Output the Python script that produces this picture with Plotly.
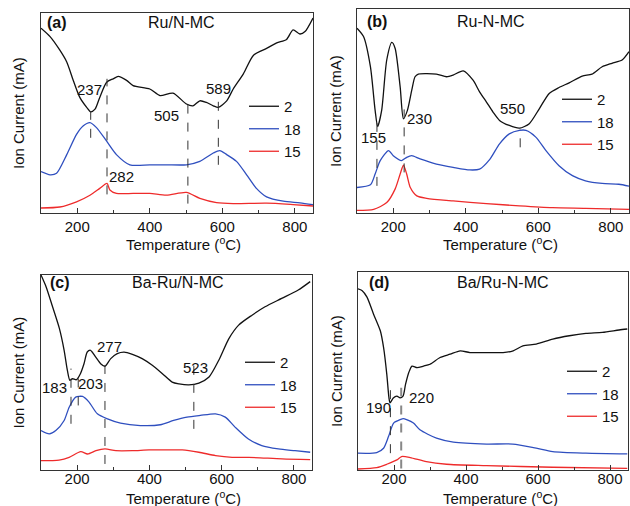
import plotly.graph_objects as go

W, H = 630, 506
FONT = "Liberation Sans, Arial, sans-serif"
BLACK, BLUE, RED = "#111111", "#2f4fbf", "#ee2b2b"

series_names = ["2", "18", "15"]

# ---------------- Panel (a) Ru/N-MC ----------------
a_t2 = [100, 125, 152, 171, 189, 207, 226, 237, 249, 262, 281, 299, 313, 336, 354, 400, 428, 464, 501, 519, 538, 556, 575, 589, 612, 630, 658, 686, 722, 750, 777, 795, 814, 828, 850]
a_v2 = [92.4, 88.2, 81.4, 75.5, 66.3, 57.8, 52.8, 50.6, 51.9, 57.8, 65.4, 67.1, 68.3, 66.3, 63.7, 62.0, 58.7, 59.9, 54.5, 53.6, 56.1, 55.3, 53.6, 52.8, 56.1, 62.0, 69.6, 78.9, 82.3, 85.1, 86.8, 91.6, 89.5, 90.7, 97.5]
a_t18 = [100, 125, 143, 171, 198, 216, 235, 253, 281, 308, 345, 400, 446, 501, 538, 575, 593, 612, 639, 667, 694, 722, 768, 814, 850]
a_v18 = [20.7, 19.1, 19.9, 29.2, 39.3, 43.5, 45.2, 42.7, 35.9, 29.2, 24.1, 24.1, 24.1, 24.1, 25.8, 30.0, 31.2, 29.2, 25.8, 19.1, 12.3, 8.1, 5.9, 5.1, 4.2]
a_t15 = [100, 152, 198, 235, 262, 282, 290, 308, 354, 400, 446, 501, 538, 584, 630, 722, 795, 850]
a_v15 = [2.5, 3.0, 5.6, 8.9, 12.3, 14.8, 11.5, 9.8, 9.8, 9.8, 8.9, 10.3, 7.3, 5.2, 4.7, 4.9, 4.2, 3.5]
a_peaks = [237, 282, 505, 589]
a_peak_lo = [37.6, 9.3, 4.7, 24.1]
a_peak_hi = [50.6, 67.1, 57.8, 59.2]
a_lab_x = [235, 323, 447, 589]
a_lab_y = [61.5, 18.2, 48.9, 62.0]

# ---------------- Panel (b) Ru-N-MC ----------------
b_t2 = [100, 118, 137, 150, 157, 168, 182, 196, 205, 219, 228, 239, 251, 260, 269, 319, 347, 365, 393, 420, 438, 457, 475, 493, 520, 548, 575, 603, 630, 657, 685, 721, 748, 776, 803, 831, 850]
b_v2 = [90.6, 86.5, 71.7, 50.3, 42.4, 50.3, 75.0, 83.6, 80.8, 61.8, 46.2, 50.3, 60.2, 66.8, 68.1, 68.1, 66.8, 67.6, 69.7, 65.1, 59.4, 54.4, 49.5, 45.4, 42.9, 41.6, 43.8, 51.2, 58.6, 61.5, 63.8, 67.1, 68.1, 71.7, 73.4, 75.0, 79.1]
b_t18 = [100, 137, 150, 164, 187, 200, 223, 237, 251, 274, 319, 365, 411, 438, 465, 493, 520, 548, 566, 593, 621, 657, 694, 730, 776, 822, 850]
b_v18 = [12.5, 13.8, 19.1, 25.7, 30.6, 28.1, 25.7, 27.3, 28.1, 26.5, 24.0, 22.4, 21.1, 21.5, 26.0, 33.9, 38.8, 40.5, 40.5, 37.2, 30.6, 23.2, 18.3, 15.8, 14.5, 14.1, 13.2]
b_t15 = [100, 146, 182, 205, 219, 228, 237, 247, 265, 292, 365, 457, 548, 639, 730, 850]
b_v15 = [1.3, 1.8, 5.1, 11.7, 19.1, 23.4, 19.1, 12.5, 8.4, 7.2, 5.9, 4.6, 3.5, 2.6, 2.3, 1.8]
b_peaks = [155, 230, 550]
b_peak_lo = [13.3, 19.9, 32.2]
b_peak_hi = [47.9, 52.0, 41.3]
b_lab_x = [146, 273, 529]
b_lab_y = [37.2, 46.2, 51.2]

# ---------------- Panel (c) Ba-Ru/N-MC ----------------
c_t2 = [100, 114, 132, 151, 164, 173, 180, 187, 198, 209, 219, 228, 237, 251, 265, 277, 293, 311, 330, 353, 380, 408, 436, 463, 482, 509, 537, 565, 592, 620, 647, 684, 720, 766, 812, 845]
c_v2 = [100.0, 94.0, 83.7, 72.5, 61.4, 51.1, 46.0, 46.8, 46.3, 49.4, 54.5, 60.5, 61.4, 58.0, 54.5, 53.2, 57.1, 59.7, 60.5, 59.3, 57.1, 53.7, 49.4, 45.1, 44.2, 43.7, 44.6, 47.7, 56.3, 67.4, 74.3, 79.4, 83.7, 88.0, 92.3, 96.6]
c_t18 = [100, 123, 141, 164, 178, 196, 215, 233, 256, 284, 320, 375, 430, 467, 504, 541, 583, 610, 637, 674, 711, 757, 803, 845]
c_v18 = [20.2, 18.5, 20.2, 25.4, 32.2, 37.4, 37.7, 34.8, 28.8, 26.2, 24.0, 22.8, 23.2, 25.4, 27.1, 28.0, 28.8, 27.1, 22.0, 15.9, 12.5, 10.8, 9.9, 9.1]
c_t15 = [100, 150, 178, 210, 229, 252, 277, 307, 353, 399, 445, 491, 537, 583, 629, 675, 767, 845]
c_v15 = [4.8, 5.1, 6.5, 9.4, 8.2, 9.9, 10.8, 9.9, 9.9, 10.3, 10.3, 10.3, 9.1, 7.4, 6.5, 6.5, 5.7, 5.3]
c_peaks = [183, 203, 277, 523]
c_peak_lo = [23.7, 33.1, 3.1, 21.1]
c_peak_hi = [52.0, 51.1, 58.3, 53.7]
c_lab_x = [137, 238, 289, 528]
c_lab_y = [42.2, 44.6, 63.1, 52.8]

# ---------------- Panel (d) Ba/Ru-N-MC ----------------
d_t2 = [100, 111, 125, 143, 162, 171, 180, 186, 189, 198, 208, 217, 225, 232, 241, 250, 264, 282, 300, 328, 356, 384, 411, 457, 503, 531, 558, 595, 641, 687, 733, 779, 825, 848]
d_v2 = [91.5, 90.7, 87.3, 78.8, 70.3, 61.9, 48.3, 36.4, 33.9, 36.4, 37.3, 36.4, 37.3, 43.2, 49.2, 52.5, 51.7, 52.5, 53.4, 56.8, 58.5, 60.2, 59.3, 59.3, 59.3, 60.2, 62.7, 63.6, 66.1, 67.8, 69.0, 69.5, 70.7, 71.2]
d_t18 = [100, 152, 171, 185, 199, 217, 226, 235, 254, 272, 318, 365, 457, 530, 595, 641, 733, 848]
d_v18 = [8.5, 8.8, 11.0, 17.0, 23.7, 25.4, 25.9, 25.4, 23.7, 20.3, 16.1, 14.1, 13.1, 13.1, 11.0, 9.3, 8.5, 8.1]
d_t15 = [100, 152, 180, 208, 221, 245, 290, 346, 457, 641, 848]
d_v15 = [0.5, 1.2, 2.9, 5.1, 6.8, 6.3, 4.2, 2.9, 2.2, 1.4, 0.8]
d_peaks = [190, 220]
d_peak_lo = [8.5, 0.8]
d_peak_hi = [42.4, 41.5]
d_lab_x = [157, 277]
d_lab_y = [31.4, 36.4]

tick_vals = [200, 400, 600, 800]
x_range = [100, 850]
y_range = [0, 100]

panels = [
    dict(tag="(a)", name="Ru/N-MC", t=[a_t2, a_t18, a_t15], v=[a_v2, a_v18, a_v15],
         peaks=a_peaks, lo=a_peak_lo, hi=a_peak_hi, lx=a_lab_x, ly=a_lab_y,
         px=(41, 313), py=(13, 213), leg=(244, 90), ytx=18, xt=(183, 243),
         tagx=45, namex=182, namey=23, standoff=0),
    dict(tag="(b)", name="Ru-N-MC", t=[b_t2, b_t18, b_t15], v=[b_v2, b_v18, b_v15],
         peaks=b_peaks, lo=b_peak_lo, hi=b_peak_hi, lx=b_lab_x, ly=b_lab_y,
         px=(357, 629), py=(9, 213), leg=(557, 83), ytx=335, xt=(500, 243),
         tagx=365, namex=491, namey=22, standoff=0),
    dict(tag="(c)", name="Ba-Ru/N-MC", t=[c_t2, c_t18, c_t15], v=[c_v2, c_v18, c_v15],
         peaks=c_peaks, lo=c_peak_lo, hi=c_peak_hi, lx=c_lab_x, ly=c_lab_y,
         px=(41, 312), py=(275, 470), leg=(240, 346), ytx=18, xt=(183, 497),
         tagx=48, namex=178, namey=282, standoff=-5),
    dict(tag="(d)", name="Ba/Ru-N-MC", t=[d_t2, d_t18, d_t15], v=[d_v2, d_v18, d_v15],
         peaks=d_peaks, lo=d_peak_lo, hi=d_peak_hi, lx=d_lab_x, ly=d_lab_y,
         px=(358, 628), py=(272, 470), leg=(562, 355), ytx=336, xt=(500, 497),
         tagx=367, namex=503, namey=282, standoff=-5),
]
colors = [BLACK, BLUE, RED]

fig = go.Figure()
layout = dict(
    width=W, height=H, margin=dict(l=0, r=0, t=0, b=0),
    paper_bgcolor="white", plot_bgcolor="white",
    font=dict(family=FONT, size=15, color="#111111"),
    annotations=[], shapes=[],
)

def ann(x, y, text, size=15, xanchor="center", yanchor="middle", xref="paper", yref="paper", angle=0):
    return dict(x=x, y=y, xref=xref, yref=yref, text=text, showarrow=False,
                xanchor=xanchor, yanchor=yanchor, textangle=angle, font=dict(size=size))

for i, p in enumerate(panels):
    k = "" if i == 0 else str(i + 1)
    xa, ya = "x" + k, "y" + k
    leg = "legend" + k
    for j in range(3):
        fig.add_trace(go.Scatter(
            x=p["t"][j], y=p["v"][j], mode="lines", name=series_names[j],
            line=dict(color=colors[j], width=1.3, shape="spline", smoothing=0.7),
            xaxis=xa, yaxis=ya, legend=leg, showlegend=True, hoverinfo="skip"))
    x0, x1 = p["px"]
    y0, y1 = p["py"]
    xd = [x0 / W, x1 / W]
    yd = [1 - y1 / H, 1 - y0 / H]
    layout["xaxis" + k] = dict(
        domain=xd, range=x_range, anchor=ya, showline=True, mirror=True,
        linecolor="#333333", linewidth=1, ticks="inside", ticklen=5, tickwidth=1,
        tickcolor="#333333", tickvals=tick_vals, showgrid=False, zeroline=False,
        ticklabelstandoff=p["standoff"],
        tickfont=dict(size=15), minor=dict(dtick=100, ticks="inside", ticklen=3, tickcolor="#333333"))
    layout["yaxis" + k] = dict(
        domain=yd, range=y_range, anchor=xa, showline=True, mirror=True,
        linecolor="#333333", linewidth=1, showticklabels=False, ticks="",
        showgrid=False, zeroline=False)
    lx, ly = p["leg"]
    layout[leg] = dict(x=lx / W, y=1 - ly / H, xanchor="left", yanchor="top",
                       bgcolor="rgba(0,0,0,0)", font=dict(size=15), tracegroupgap=0)
    # axis titles
    layout["annotations"].append(ann(p["ytx"] / W, (yd[0] + yd[1]) / 2, "Ion Current (mA)", angle=-90))
    layout["annotations"].append(ann(p["xt"][0] / W, 1 - p["xt"][1] / H, "Temperature (<sup>o</sup>C)"))
    layout["annotations"].append(ann(p["tagx"] / W, 1 - p["namey"] / H, "<b>" + p["tag"] + "</b>",
                                     size=16, xanchor="left"))
    layout["annotations"].append(ann(p["namex"] / W, 1 - p["namey"] / H, p["name"], size=16))
    # peak markers
    for n, pk in enumerate(p["peaks"]):
        special = (i == 3 and pk == 220)
        layout["shapes"].append(dict(
            type="line", xref=xa, yref=ya, x0=pk, x1=pk, y0=p["lo"][n], y1=p["hi"][n],
            line=dict(color="#888888" if special else "#333333", width=2 if special else 1, dash="dash")))
        layout["annotations"].append(ann(p["lx"][n], p["ly"][n], str(pk), xref=xa, yref=ya))

fig.update_layout(**layout)
fig.write_html("out.html", config={"displayModeBar": False},
               post_script="document.body.style.margin='0';")
